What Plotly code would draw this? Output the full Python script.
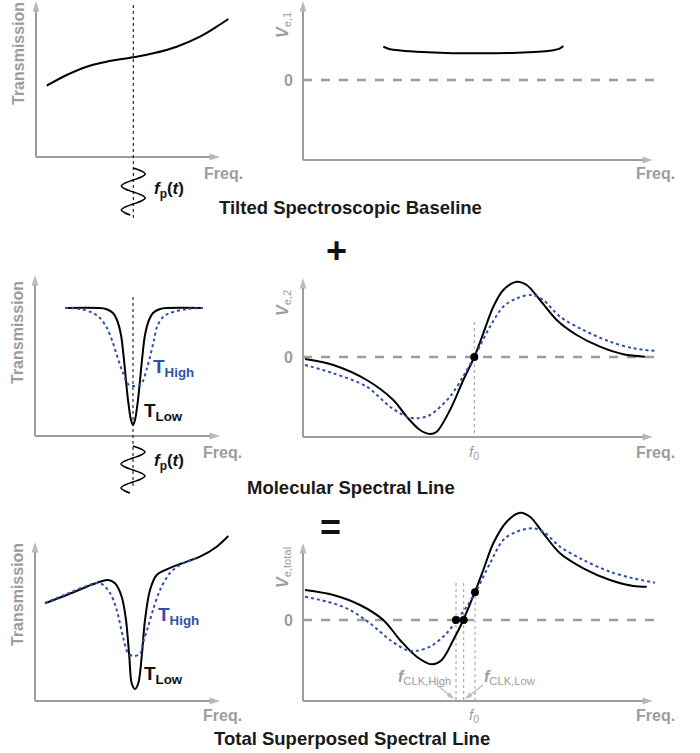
import plotly.graph_objects as go

W, H = 700, 753
GRAY = "#9d9d9d"
BLUE = "#2f4fa8"
FONT = "Liberation Sans, Arial, sans-serif"

# ---------------- data (arbitrary schematic units) ----------------
# Panel 1: tilted baseline transmission
base_T_x = [10.7, 30.7, 50.7, 70.7, 97.3, 117.3, 140.7, 164, 180.7, 192.3]
base_T_y = [71.3, 82, 90.3, 95.3, 99.7, 103.7, 110.3, 120.3, 130.3, 138]
# Panel 2: baseline error signal V_e,1
base_V_x = [80.3, 87, 113.7, 163.7, 213.7, 247, 257, 260.3]
base_V_y = [33.3, 30.7, 28.3, 26.7, 27.3, 29.3, 31.7, 34]
# Frequency modulation wave f_p(t) (offset, depth)
wave_dx = [0, 8, 12, 8, 0, -8, -12, -8, 0, 8, 12, 8, 0, -8, -12, -8, -3]
wave_dy = [0, 3, 6, 9, 12, 15, 18, 21, 24, 27, 30, 33, 36, 39, 42, 45, 47]
# Panel 3: molecular line transmission
mol_low_x = [30, 63, 71, 78, 82, 86, 89, 93, 96, 98, 100, 103, 107, 110, 114, 118, 125, 133, 168]
mol_low_y = [128, 128, 127, 123, 116, 101, 76, 36, 16, 11, 16, 36, 76, 101, 116, 123, 127, 128, 128]
mol_high_x = [30, 45, 58, 65, 72, 78, 84, 88, 93, 98, 105, 108, 112, 115, 119, 122, 128, 135, 152, 168]
mol_high_y = [128, 127, 123, 118, 108, 93, 74, 63, 52, 50, 51, 55, 68, 79, 96, 109, 119, 123, 127, 128]
# Panel 4: molecular error signal V_e,2
mol_Vlow_x = [2, 30.3, 63.7, 90.3, 103.7, 117, 127, 133.7, 147, 160.3, 171.3, 180.3, 190.3, 200.3,
              213.7, 223.7, 237, 253.7, 273.7, 297, 320.3, 342]
mol_Vlow_y = [-2, -8, -23, -43, -59.7, -73, -77, -74.7, -53, -23, 0, 23.7, 50.3, 67,
              75.3, 72, 57, 37, 22, 10.3, 2.7, 0.3]
mol_Vhigh_x = [2, 30.3, 63.7, 87, 103.7, 113.7, 127, 147, 160.3, 171.3, 187, 200.3, 213.7, 228.7,
               240.3, 257, 280.3, 307, 330.3, 352]
mol_Vhigh_y = [-8, -16.3, -29.7, -49.7, -59.7, -61.3, -58, -39.7, -19, 0, 30.3, 50.3, 58.7, 62,
               57, 40.3, 27, 15.3, 8.7, 6.3]
# Panel 5: total transmission
tot_low_x = [10, 31.7, 51.7, 65, 73.3, 80, 86.7, 91, 94.3, 96.7, 100, 103.3, 106.7, 110, 115,
             121.7, 131.7, 145, 165, 181.7, 193.3]
tot_low_y = [97.7, 106, 114.3, 119.3, 121, 117.7, 104.3, 81, 44.3, 17.7, 12, 17.7, 44.3, 81, 111,
             126, 131.7, 137, 144.3, 154.3, 165]
tot_high_x = [10, 31.7, 51.7, 65, 75, 81.7, 88, 93, 98, 105, 108, 113, 118, 125, 135, 145, 162]
tot_high_y = [98, 107, 115, 118, 108, 91, 64, 48, 45, 47, 58, 74, 91, 111, 128, 136, 143]
# Panel 6: total error signal V_e,total
tot_Vlow_x = [2, 30.3, 57, 80.3, 97, 113.7, 128.7, 138.7, 150.3, 160.3, 172, 180.3, 190.3, 203.7,
              217, 227, 240.3, 257, 280.3, 307, 330.3, 343.7]
tot_Vlow_y = [30, 25, 15, 0, -20, -36.7, -44.3, -40, -20, 0, 28.3, 50, 76.7, 98.3,
              107.3, 103.3, 86.7, 66.7, 51.7, 40, 34, 33.3]
tot_Vhigh_x = [2, 30.3, 47, 67, 87, 103.7, 113.7, 127, 143.7, 153.7, 163.7, 173.7, 187, 200.3,
               213.7, 230.3, 240.3, 257, 280.3, 307, 330.3, 352]
tot_Vhigh_y = [23.3, 16.7, 10, -3.3, -20, -30, -30.7, -26.7, -13.3, 0, 13.3, 30, 56.7, 80,
               88.3, 91.7, 88.3, 73.3, 60, 48.3, 41.7, 37.3]
# Lock points
f0_pos = 171.3
clk_x = [153, 160.7, 172]
clk_y = [0, 0, 27.7]

# ---------------- panel geometry ----------------
# (x0, x1, y0, y1) pixel box, (ox, oy) pixel origin
panels = {
    1: (0, 250, 0, 230, 36, 157),
    2: (250, 700, 0, 230, 303, 80),
    3: (0, 250, 260, 500, 35, 436),
    4: (250, 700, 260, 500, 303, 357),
    5: (0, 250, 505, 753, 35, 701),
    6: (250, 700, 505, 753, 303, 620),
}

fig = go.Figure()
layout = dict(width=W, height=H, margin=dict(l=0, r=0, t=0, b=0),
              paper_bgcolor="white", plot_bgcolor="white", showlegend=False)


def ax(i):
    return ("x", "y") if i == 1 else (f"x{i}", f"y{i}")


for i, (x0, x1, y0, y1, ox, oy) in panels.items():
    xn = "xaxis" if i == 1 else f"xaxis{i}"
    yn = "yaxis" if i == 1 else f"yaxis{i}"
    xr, yr = ax(i)
    layout[xn] = dict(domain=[x0 / W, x1 / W], range=[x0 - ox, x1 - ox], visible=False,
                      anchor=yr, fixedrange=True)
    layout[yn] = dict(domain=[(H - y1) / H, (H - y0) / H], range=[oy - y1, oy - y0], visible=False,
                      anchor=xr, fixedrange=True)

fig.update_layout(**layout)


def line(i, x, y, color="black", dash=None, width=2):
    xr, yr = ax(i)
    fig.add_trace(go.Scatter(x=x, y=y, xaxis=xr, yaxis=yr, mode="lines",
                             line=dict(color=color, width=width, dash=dash, shape="spline", smoothing=0.9),
                             hoverinfo="skip", cliponaxis=False))


def straight(i, x, y, color, dash, width):
    xr, yr = ax(i)
    fig.add_trace(go.Scatter(x=x, y=y, xaxis=xr, yaxis=yr, mode="lines",
                             line=dict(color=color, width=width, dash=dash), hoverinfo="skip"))


def arrow(i, tx, ty, sx, sy, color=GRAY, width=2, size=11):
    xr, yr = ax(i)
    fig.add_trace(go.Scatter(x=[sx, tx], y=[sy, ty], xaxis=xr, yaxis=yr, mode="lines+markers",
                             line=dict(color=color, width=width),
                             marker=dict(symbol=["circle", "arrow"], size=[0, size], color=color,
                                         angleref="previous", line=dict(width=0)),
                             hoverinfo="skip", cliponaxis=False))


annotations = []


def text(i, x, y, s, size=16, color=GRAY, angle=0, xanchor="center", yanchor="middle"):
    xr, yr = ax(i)
    annotations.append(dict(x=x, y=y, xref=xr, yref=yr, text=s, showarrow=False, textangle=angle,
                            xanchor=xanchor, yanchor=yanchor,
                            font=dict(family=FONT, size=size, color=color)))


def ptext(px, py, s, size=18, color="#1a1a1a"):
    annotations.append(dict(x=px / W, y=(H - py) / H, xref="paper", yref="paper", text=s,
                            showarrow=False, xanchor="center", yanchor="middle",
                            font=dict(family=FONT, size=size, color=color)))


# axes arrows
arrow(1, 0, 156, 0, 0); arrow(1, 184, 0, 0, 0)
arrow(2, 0, 79, 0, -80); arrow(2, 350, -80, 0, -80)
arrow(3, 0, 161, 0, 0); arrow(3, 185, 0, 0, 0)
arrow(4, 0, 79, 0, -80); arrow(4, 350, -80, 0, -80)
arrow(5, 0, 159, 0, 0); arrow(5, 185, 0, 0, 0)
arrow(6, 0, 77, 0, -81); arrow(6, 350, -81, 0, -81)

# zero lines
for i in (2, 4, 6):
    straight(i, [0, 352], [0, 0], GRAY, "dash", 2.5)

# Panel 1
straight(1, [97.3, 97.3], [152, -63], "black", "dot", 1)
line(1, base_T_x, base_T_y)
line(1, [97.3 + d for d in wave_dx], [-11 - d for d in wave_dy], width=1.5)
# Panel 2
line(2, base_V_x, base_V_y)
# Panel 3
straight(3, [98, 98], [139, -52], "black", "dot", 1)
line(3, mol_low_x, mol_low_y)
line(3, mol_high_x, mol_high_y, BLUE, "dot")
line(3, [98 + d for d in wave_dx], [-10 - d for d in wave_dy], width=1.5)
# Panel 4
straight(4, [f0_pos, f0_pos], [35, -80], GRAY, "dot", 1)
line(4, mol_Vlow_x, mol_Vlow_y)
line(4, mol_Vhigh_x, mol_Vhigh_y, BLUE, "dot")
fig.add_trace(go.Scatter(x=[f0_pos], y=[0], xaxis="x4", yaxis="y4", mode="markers",
                         marker=dict(color="black", size=8), hoverinfo="skip"))
# Panel 5
line(5, tot_low_x, tot_low_y)
line(5, tot_high_x, tot_high_y, BLUE, "dot")
# Panel 6
for cx, top in zip(clk_x, [37, 37, 30]):
    straight(6, [cx, cx], [top, -81], GRAY, "dot", 1)
line(6, tot_Vlow_x, tot_Vlow_y)
line(6, tot_Vhigh_x, tot_Vhigh_y, BLUE, "dot")
fig.add_trace(go.Scatter(x=clk_x, y=clk_y, xaxis="x6", yaxis="y6", mode="markers",
                         marker=dict(color="black", size=8), hoverinfo="skip"))
arrow(6, 151, -79, 134, -65, GRAY, 1, 8)
arrow(6, 162, -79, 180, -65, GRAY, 1, 8)

# labels
for i, cy in ((1, 103), (3, 103), (5, 106)):
    text(i, -18, cy, "<b>Transmission</b>", 16, GRAY, -90)
for i, cy in ((1, -16), (3, -16), (5, -14)):
    text(i, 187, cy, "<b>Freq.</b>", 16, GRAY)
for i in (2, 4, 6):
    text(i, 352, -93 if i == 2 else -95, "<b>Freq.</b>", 16, GRAY)
    text(i, -15, 0, "<b>0</b>", 16, GRAY)
text(2, -20, 55, "<b><i>V</i></b><sub>e,1</sub>", 16, GRAY, -90)
text(4, -20, 54, "<b><i>V</i></b><sub>e,2</sub>", 16, GRAY, -90)
text(6, -20, 52, "<b><i>V</i></b><sub>e,total</sub>", 16, GRAY, -90)
text(1, 116, -33, "<b><i>f</i><sub>p</sub>(<i>t</i>)</b>", 17, "#111111", xanchor="left")
text(3, 117, -26, "<b><i>f</i><sub>p</sub>(<i>t</i>)</b>", 17, "#111111", xanchor="left")
text(3, 116, 68, "<b>T<sub>High</sub></b>", 19, BLUE, xanchor="left")
text(3, 107, 24, "<b>T<sub>Low</sub></b>", 19, "#111111", xanchor="left")
text(5, 121, 85, "<b>T<sub>High</sub></b>", 19, BLUE, xanchor="left")
text(5, 107, 26, "<b>T<sub>Low</sub></b>", 19, "#111111", xanchor="left")
text(4, f0_pos, -95, "<i>f</i><sub>0</sub>", 15, GRAY)
text(6, f0_pos, -95, "<i>f</i><sub>0</sub>", 15, GRAY)
text(6, 121, -57, "<b><i>f</i></b><sub>CLK,High</sub>", 16, GRAY)
text(6, 207, -57, "<b><i>f</i></b><sub>CLK,Low</sub>", 16, GRAY)

ptext(350, 208, "<b>Tilted Spectroscopic Baseline</b>", 18.5)
ptext(351, 487, "<b>Molecular Spectral Line</b>", 18.5)
ptext(352, 738, "<b>Total Superposed Spectral Line</b>", 18.5)
ptext(336, 250, "<b>+</b>", 36, "#111111")
ptext(330, 527, "<b>=</b>", 36, "#111111")

fig.update_layout(annotations=annotations)
fig.write_html("out.html")
